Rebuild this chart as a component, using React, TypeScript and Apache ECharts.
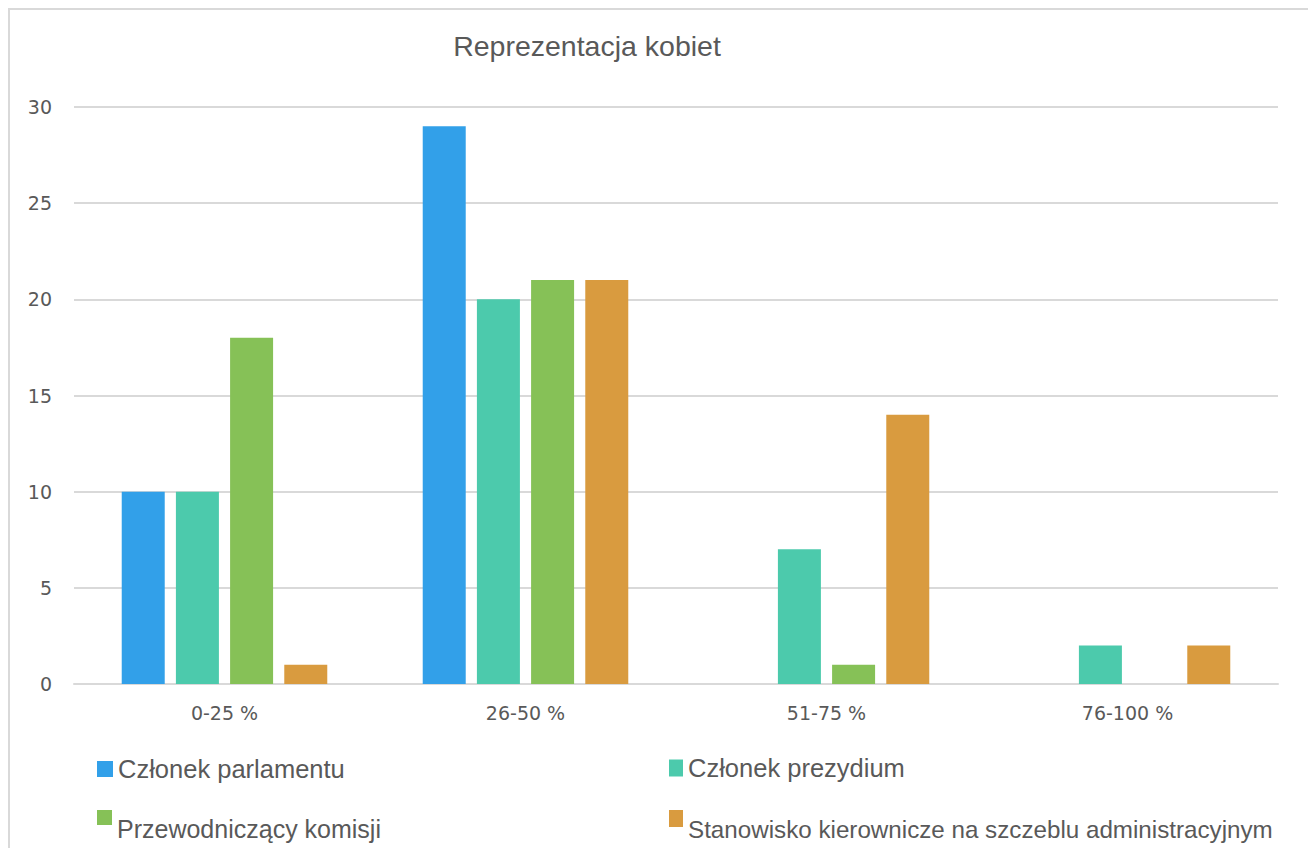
import React, { useEffect, useRef } from "react";
import * as echarts from "echarts";

const categories = ["0-25 %", "26-50 %", "51-75 %", "76-100 %"];
const seriesNames = [
  "Członek parlamentu",
  "Członek prezydium",
  "Przewodniczący komisji",
  "Stanowisko kierownicze na szczeblu administracyjnym",
];
const parlament = [10, 29, 0, 0];
const prezydium = [10, 20, 7, 2];
const komisja = [18, 21, 1, 0];
const administracja = [1, 21, 14, 2];
const seriesValues = [parlament, prezydium, komisja, administracja];
const colors = ["#32a0e9", "#4ccaac", "#86c157", "#d99b3f"];
const yTicks = { min: 0, max: 30, interval: 5 };
const title = "Reprezentacja kobiet";

export default function App() {
  const ref = useRef<HTMLDivElement>(null);
  useEffect(() => {
    if (!ref.current) return;
    const chart = echarts.init(ref.current, null, { renderer: "svg" });
    const textColor = "#595959";
    const legendPos = [
      { left: 97, top: 756, w: 16, h: 16, icon: "rect", fs: 25.5 },
      { left: 669, top: 755, w: 14, h: 17, icon: "rect", fs: 25.5 },
      { left: 97, top: 810, w: 15, h: 38, icon: "path://M0,0H15V15H0Z M0,38H0.01V38.01H0Z", fs: 25 },
      { left: 669, top: 810, w: 14, h: 38, icon: "path://M0,0H14V17H0Z M0,38H0.01V38.01H0Z", fs: 24.2 },
    ];
    chart.setOption({
      animation: false,
      backgroundColor: "#ffffff",
      title: {
        text: title,
        left: 582,
        top: 26,
        textAlign: "center",
        textStyle: { fontFamily: "Liberation Sans", fontSize: 28.5, fontWeight: "normal", color: textColor },
      },
      legend: seriesNames.map((n, i) => ({
        data: [n],
        left: legendPos[i].left,
        top: legendPos[i].top,
        itemWidth: legendPos[i].w,
        itemHeight: legendPos[i].h,
        icon: legendPos[i].icon,
        selectedMode: false,
        padding: 0,
        textStyle: { fontFamily: "Liberation Sans", fontSize: legendPos[i].fs, color: textColor },
      })),
      grid: { left: 74, right: 30, top: 107, bottom: 164, containLabel: false },
      xAxis: {
        type: "category",
        data: categories,
        axisLine: { lineStyle: { color: "#d9d9d9", width: 2 } },
        axisTick: { show: false },
        axisLabel: { margin: 19, fontFamily: "DejaVu Sans", fontSize: 19, color: textColor },
      },
      yAxis: {
        type: "value",
        min: yTicks.min,
        max: yTicks.max,
        interval: yTicks.interval,
        axisLine: { show: false },
        axisTick: { show: false },
        splitLine: { lineStyle: { color: "#d9d9d9", width: 2 } },
        axisLabel: { margin: 22, fontFamily: "DejaVu Sans", fontSize: 19, color: textColor },
      },
      graphic: [
        { type: "line", shape: { x1: 8, y1: 9, x2: 1308, y2: 9 }, style: { stroke: "#d9d9d9", lineWidth: 2 } },
        { type: "line", shape: { x1: 9, y1: 8, x2: 9, y2: 848 }, style: { stroke: "#d9d9d9", lineWidth: 2 } },
      ],
      series: seriesNames.map((n, i) => ({
        name: n,
        type: "bar",
        data: seriesValues[i],
        barWidth: 43,
        barGap: "26%",
        itemStyle: { color: colors[i] },
      })),
    });
    return () => chart.dispose();
  }, []);
  return (
    <div
      ref={ref}
      style={{ position: "fixed", left: 0, top: 0, width: 1308, height: 848, background: "#fff" }}
    />
  );
}
